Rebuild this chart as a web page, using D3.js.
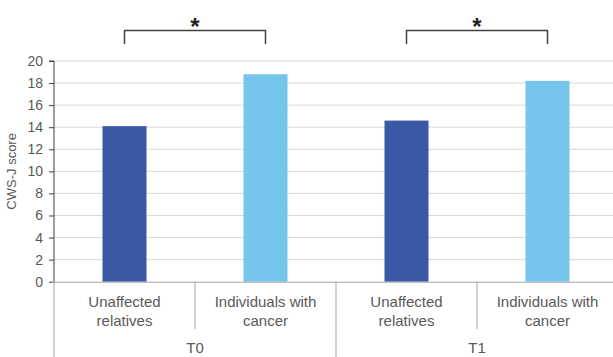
<!DOCTYPE html>
<html><head><meta charset="utf-8">
<script src="https://cdn.jsdelivr.net/npm/d3@7"></script>
<style>body{margin:0;background:#fff}svg{display:block}</style>
</head><body>
<script>
const groups = ["T0", "T1"];
const categories = ["Unaffected relatives", "Individuals with cancer"];
const values = [14.1, 18.8, 14.6, 18.2];
const yTicks = [0, 2, 4, 6, 8, 10, 12, 14, 16, 18, 20];
const colors = ["#3A58A4", "#76C5EC"];
const sigPairs = [[0, 1], [2, 3]];

(function () {
const W = 613, H = 357;
const svg = d3.select("body").append("svg").attr("width", W).attr("height", H);
const mLeft = 54, mRight = 618, mTop = 61, mBottom = 281.7;

const keys = d3.range(values.length);
const x = d3.scaleBand().domain(keys).range([mLeft, mRight]).paddingInner(0).paddingOuter(0);
const y = d3.scaleLinear().domain([0, 20]).range([mBottom, mTop]);
const font = "Liberation Sans, Arial, sans-serif";

// gridlines
svg.append("g").selectAll("line").data(yTicks.filter(d => d > 0)).join("line")
  .attr("x1", mLeft).attr("x2", W).attr("y1", d => y(d)).attr("y2", d => y(d))
  .attr("stroke", "#d9d9d9").attr("stroke-width", 1);

// bars
const bw = 44;
svg.append("g").selectAll("rect").data(keys).join("rect")
  .attr("x", i => x(i) + x.bandwidth() / 2 - bw / 2)
  .attr("width", bw)
  .attr("y", i => y(values[i]))
  .attr("height", i => y(0) - y(values[i]))
  .attr("fill", i => colors[i % 2]);

// y axis
const yAxis = d3.axisLeft(y).tickValues(yTicks).tickSize(5).tickPadding(6);
const ga = svg.append("g").attr("transform", `translate(${mLeft},0)`).call(yAxis);
ga.select(".domain").attr("stroke", "#404040").attr("d", `M-5,${mTop}H0V${mBottom}`);
ga.selectAll(".tick line").attr("stroke", "#404040");
ga.selectAll(".tick text").attr("fill", "#595959").style("font-family", font).style("font-size", "14px");

// y title
svg.append("text").attr("transform", `translate(16,${(mTop + mBottom) / 2}) rotate(-90)`)
  .attr("text-anchor", "middle").attr("fill", "#595959")
  .style("font-family", font).style("font-size", "13px")
  .text("CWS-J score");

// bottom axis line
svg.append("line").attr("x1", mLeft).attr("x2", W).attr("y1", mBottom + 0.5).attr("y2", mBottom + 0.5)
  .attr("stroke", "#a6a6a6");
svg.append("line").attr("x1", mLeft).attr("x2", mLeft).attr("y1", mBottom).attr("y2", H)
  .attr("stroke", "#a6a6a6");
keys.slice(1).forEach(i => {
  const full = i % 2 === 0;
  svg.append("line").attr("x1", x(i)).attr("x2", x(i)).attr("y1", mBottom)
    .attr("y2", full ? H : 329).attr("stroke", "#a6a6a6");
});

// category labels
keys.forEach(i => {
  const words = i % 2 === 0 ? ["Unaffected", "relatives"] : ["Individuals with", "cancer"];
  const t = svg.append("text").attr("text-anchor", "middle").attr("fill", "#595959")
    .style("font-family", font).style("font-size", "15px");
  words.forEach((w, k) => t.append("tspan").attr("x", x(i) + x.bandwidth() / 2).attr("y", 307 + k * 19).text(w));
});
groups.forEach((g, gi) => {
  const cx = (x(gi * 2) + x(gi * 2 + 1) + x.bandwidth()) / 2;
  svg.append("text").attr("x", cx).attr("y", 353).attr("text-anchor", "middle").attr("fill", "#595959")
    .style("font-family", font).style("font-size", "15px").text(g);
});

// significance brackets
sigPairs.forEach(([a, b]) => {
  const xa = x(a) + x.bandwidth() / 2, xb = x(b) + x.bandwidth() / 2;
  svg.append("path").attr("d", `M${xa},44V30.5H${xb}V44`).attr("fill", "none")
    .attr("stroke", "#404040").attr("stroke-width", 1.5);
  svg.append("text").attr("x", (xa + xb) / 2).attr("y", 35).attr("text-anchor", "middle")
    .attr("fill", "#222").style("font-family", font).style("font-size", "24px").style("font-weight", "bold").text("*");
});
})();
</script>
</body></html>
